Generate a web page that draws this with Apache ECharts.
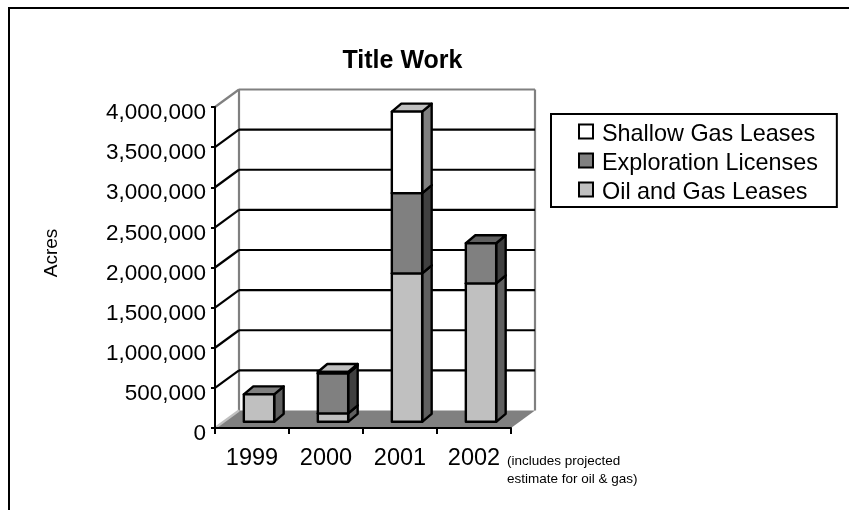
<!DOCTYPE html>
<html>
<head>
<meta charset="utf-8">
<style>html,body{margin:0;padding:0;background:#fff}#chart{width:849px;height:510px}</style>
<script src="https://cdn.jsdelivr.net/npm/echarts@6/dist/echarts.min.js"></script>
</head>
<body>
<div id="chart"></div>
<script>
// Acres of title work per year, stacked from the ground up
const years = ['1999', '2000', '2001', '2002'];
const oilGasLeases = [342000, 105000, 1850000, 1725000];
const explorationLicenses = [0, 498000, 1000000, 500000];
const shallowGasLeases = [0, 18000, 1015000, 0];
const valueTicks = [0, 500000, 1000000, 1500000, 2000000, 2500000, 3000000, 3500000, 4000000];

const FONT = '"Liberation Sans", Arial, sans-serif';

// Oblique projection of the box: room depth, bar depth, bar placement
const ROOM_DX = 24, ROOM_DY = -17.5;
const BAR_DX = 9.5, BAR_DY = -8;
const BAR_SHIFT_X = 7, BAR_SHIFT_Y = -6.2;
const BAR_SHARE = 0.41;
const EDGE = 2.4;

function quad(points, fill, stroke, lineWidth) {
  return {
    type: 'polygon',
    shape: { points },
    style: { fill, stroke: stroke || null, lineWidth: lineWidth || 0, lineJoin: 'round' }
  };
}

// One stacked segment: front, side and top faces
function segmentRenderer(values, lowerStacks, faces) {
  return function (params, api) {
    const i = api.value(0);
    const v = values[i];
    if (!v) return null;
    const base = lowerStacks.reduce((sum, s) => sum + s[i], 0);
    const low = api.coord([i, base]);
    const high = api.coord([i, base + v]);
    const w = api.size([1, 0])[0] * BAR_SHARE;
    const l = low[0] + BAR_SHIFT_X - w / 2, r = l + w;
    const by = low[1] + BAR_SHIFT_Y, ty = high[1] + BAR_SHIFT_Y;
    return {
      type: 'group',
      children: [
        quad([[r, by], [r + BAR_DX, by + BAR_DY], [r + BAR_DX, ty + BAR_DY], [r, ty]], faces.side, '#000', EDGE),
        quad([[l, ty], [r, ty], [r + BAR_DX, ty + BAR_DY], [l + BAR_DX, ty + BAR_DY]], faces.top, '#000', EDGE),
        quad([[l, by], [r, by], [r, ty], [l, ty]], faces.front, '#000', EDGE)
      ]
    };
  };
}

// Floor, back wall edges and the gridlines running round the room
function renderRoom(params, api) {
  const tick = api.value(1);
  const cs = params.coordSys;
  const y = api.coord([0, tick])[1];
  const x0 = cs.x, x1 = cs.x + cs.width;
  const line = (a, b, c, d, color) => ({
    type: 'line',
    shape: { x1: a, y1: b, x2: c, y2: d },
    style: { stroke: color, lineWidth: 2.2 }
  });
  if (tick === valueTicks[0]) {
    const top = api.coord([0, valueTicks[valueTicks.length - 1]])[1] + ROOM_DY;
    return {
      type: 'group',
      children: [
        quad([[x0, y], [x1, y], [x1 + ROOM_DX, y + ROOM_DY], [x0 + ROOM_DX, y + ROOM_DY]], '#808080'),
        line(x0 + ROOM_DX, top, x0 + ROOM_DX, y + ROOM_DY, '#808080'),
        line(x1 + ROOM_DX, top, x1 + ROOM_DX, y + ROOM_DY, '#808080'),
        line(x0, y, x0 + ROOM_DX, y + ROOM_DY, '#c0c0c0')
      ]
    };
  }
  const color = tick === valueTicks[valueTicks.length - 1] ? '#808080' : '#000';
  return {
    type: 'group',
    children: [
      line(x0, y, x0 + ROOM_DX, y + ROOM_DY, color),
      line(x0 + ROOM_DX, y + ROOM_DY, x1 + ROOM_DX, y + ROOM_DY, color)
    ]
  };
}

const chart = echarts.init(document.getElementById('chart'), null, { renderer: 'canvas' });
chart.setOption({
  animation: false,
  backgroundColor: '#fff',
  textStyle: { fontFamily: FONT, color: '#000' },
  title: {
    text: 'Title Work',
    left: 397.5,
    top: 44,
    textAlign: 'center',
    textStyle: { fontFamily: FONT, fontSize: 25, fontWeight: 'bold', color: '#000' }
  },
  legend: {
    orient: 'vertical',
    left: 551,
    top: 114,
    padding: [9, 19, 3, 27],
    icon: 'rect',
    itemWidth: 14,
    itemHeight: 14,
    itemGap: 6,
    borderColor: '#000',
    borderWidth: 2,
    backgroundColor: '#fff',
    selectedMode: false,
    data: ['Shallow Gas Leases', 'Exploration Licenses', 'Oil and Gas Leases'],
    formatter: '{t|{name}}',
    textStyle: {
      fontFamily: FONT,
      rich: { t: { fontFamily: FONT, fontSize: 23.4, color: '#000', padding: [6, 0, 0, 4] } }
    }
  },
  grid: { left: 215, top: 107, width: 296, height: 321 },
  xAxis: {
    type: 'category',
    data: years,
    z: 3,
    axisLine: { lineStyle: { color: '#000', width: 2 } },
    axisTick: { show: true, length: 6, lineStyle: { color: '#000', width: 2 } },
    axisLabel: { fontFamily: FONT, fontSize: 23.5, color: '#000', margin: 19 }
  },
  yAxis: {
    type: 'value',
    min: 0,
    max: 4000000,
    interval: 500000,
    z: 3,
    splitLine: { show: false },
    axisLine: { show: true, lineStyle: { color: '#000', width: 2 } },
    axisTick: { show: true, length: 4, lineStyle: { color: '#000', width: 2 } },
    axisLabel: {
      fontFamily: FONT,
      fontSize: 22.5,
      color: '#000',
      margin: 9,
      verticalAlign: 'top',
      lineHeight: 12,
      formatter: v => v.toLocaleString('en-US')
    }
  },
  graphic: [
    {
      type: 'rect',
      z: -1,
      shape: { x: 9, y: 8, width: 900, height: 600 },
      style: { fill: 'none', stroke: '#000', lineWidth: 2 }
    },
    {
      type: 'text',
      x: 52,
      y: 253,
      rotation: Math.PI / 2,
      style: { text: 'Acres', font: '19px ' + FONT, fill: '#000', align: 'center', verticalAlign: 'middle' }
    },
    {
      type: 'text',
      x: 507,
      y: 452,
      style: {
        text: '(includes projected\nestimate for oil & gas)',
        font: '13.5px ' + FONT,
        fill: '#000',
        lineHeight: 18
      }
    }
  ],
  series: [
    {
      type: 'custom',
      silent: true,
      z: 1,
      coordinateSystem: 'cartesian2d',
      renderItem: renderRoom,
      data: valueTicks.map(t => [0, t])
    },
    {
      name: 'Oil and Gas Leases',
      type: 'custom',
      z: 4,
      itemStyle: { color: '#c0c0c0', borderColor: '#000', borderWidth: 2 },
      renderItem: segmentRenderer(oilGasLeases, [], { front: '#c0c0c0', side: '#606060', top: '#808080' }),
      data: years.map((y, i) => [i, oilGasLeases[i]])
    },
    {
      name: 'Exploration Licenses',
      type: 'custom',
      z: 4,
      itemStyle: { color: '#808080', borderColor: '#000', borderWidth: 2 },
      renderItem: segmentRenderer(explorationLicenses, [oilGasLeases], { front: '#808080', side: '#404040', top: '#606060' }),
      data: years.map((y, i) => [i, explorationLicenses[i]])
    },
    {
      name: 'Shallow Gas Leases',
      type: 'custom',
      z: 4,
      itemStyle: { color: '#ffffff', borderColor: '#000', borderWidth: 2 },
      renderItem: segmentRenderer(shallowGasLeases, [oilGasLeases, explorationLicenses], { front: '#ffffff', side: '#808080', top: '#c0c0c0' }),
      data: years.map((y, i) => [i, shallowGasLeases[i]])
    }
  ]
});
</script>
</body>
</html>
